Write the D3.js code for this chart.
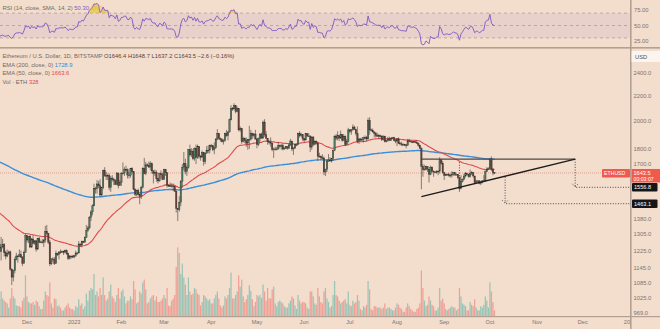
<!DOCTYPE html>
<html><head><meta charset="utf-8">
<script src="https://cdn.jsdelivr.net/npm/d3@7"></script>
<style>
body{margin:0;background:#f3ddcd}
svg{display:block}
text{font-family:"Liberation Sans",Arial,sans-serif}
</style>
</head><body>
<svg id="c" width="660" height="329"></svg>
<script>
// ---------------- DATA ----------------
const startDate = "2022-10-30"; // first daily candle (warm-up days are off-screen)
const firstOpen = 1595;
const closes = [
1590,1572,
1580,1518,1530,1645,1628,1572,1568,1334,1100,1300,1287,1256,1220,1242,1253,1215,1200,1213,1219,1142,1108,1135,1184,1200,1199,1206,1195,1168,1217,1296,
1275,1293,1241,1280,1259,1271,1232,1282,1264,1266,1263,1275,1318,1308,1265,1165,1187,1184,1167,1213,1206,1219,1218,1220,1218,1225,1212,1189,1200,1198,1196,
1201,1214,1214,1256,1251,1269,1264,1288,1321,1335,1389,1418,1451,1551,1549,1577,1566,1512,1554,1659,1627,1628,1628,1556,1612,1604,1598,1574,1643,1567,1584,
1642,1643,1666,1665,1631,1629,1672,1652,1546,1514,1539,1514,1505,1556,1673,1640,1695,1691,1681,1702,1657,1641,1648,1609,1595,1640,1633,1605,
1664,1645,1568,1566,1564,1565,1560,1534,1437,1430,1471,1590,1680,1705,1653,1676,1795,1760,1785,1735,1805,1742,1817,1752,1745,1775,1716,1771,1792,1792,1822,
1822,1795,1808,1869,1910,1874,1864,1850,1857,1910,1892,1920,2010,2098,2095,2120,2076,2100,1935,1943,1850,1875,1859,1840,1865,1866,1910,1893,1905,1869,
1830,1871,1905,1876,1993,1900,1874,1850,1845,1840,1796,1800,1798,1800,1822,1822,1823,1800,1805,1815,1805,1828,1855,1800,1807,1830,1830,1910,1892,1900,1872,
1862,1907,1890,1891,1813,1883,1832,1850,1840,1752,1752,1742,1739,1650,1666,1719,1726,1720,1735,1790,1890,1873,1892,1876,1900,1860,1889,1830,1850,1935,
1925,1937,1956,1937,1910,1850,1870,1862,1865,1880,1880,1870,2005,1935,1930,1920,1910,1895,1890,1892,1890,1865,1890,1850,1860,1870,1860,1875,1880,1860,1855,
1870,1840,1835,1830,1830,1828,1825,1856,1855,1850,1848,1850,1845,1840,1826,1806,1685,1665,1668,1685,1667,1635,1680,1655,1650,1645,1655,1655,1728,1705,1645,
1628,1635,1635,1628,1630,1635,1645,1635,1635,1615,1550,1590,1605,1625,1640,1635,1620,1640,1645,1625,1585,1595,1595,1580,1585,1595,1595,1652,1668,1670,
1733,1665,1646.1,1643.5
];
const highs = [
1640,1640,
1600,1620,1550,1675,1660,1650,1600,1590,1350,1340,1330,1290,1270,1290,1280,1260,1225,1230,1225,1225,1145,1140,1195,1215,1205,1230,1225,1200,1225,1305,
1300,1295,1300,1285,1300,1275,1275,1285,1290,1272,1280,1280,1345,1350,1310,1275,1190,1195,1195,1225,1215,1220,1230,1225,1225,1230,1230,1215,1205,1202,1205,
1204,1225,1218,1270,1258,1272,1272,1292,1350,1345,1396,1428,1460,1578,1560,1600,1595,1605,1560,1665,1680,1650,1640,1640,1625,1630,1615,1605,1650,1645,1600,
1650,1710,1680,1690,1672,1650,1675,1680,1655,1550,1543,1550,1520,1565,1680,1740,1715,1705,1715,1718,1710,1660,1665,1660,1612,1645,1660,1645,
1670,1668,1648,1575,1585,1580,1580,1565,1540,1440,1505,1600,1700,1780,1735,1690,1800,1830,1805,1800,1810,1830,1830,1820,1760,1790,1777,1780,1820,1825,1830,
1835,1825,1845,1875,1940,1912,1880,1875,1870,1915,1935,1925,2020,2125,2110,2140,2122,2115,2100,1960,1950,1885,1880,1880,1870,1965,1935,1915,1910,1935,
1875,1880,1910,1915,2005,2015,1925,1875,1860,1880,1845,1808,1815,1815,1850,1830,1835,1840,1815,1820,1820,1835,1870,1855,1810,1835,1838,1915,1925,1915,1905,
1875,1910,1910,1912,1893,1890,1890,1860,1860,1845,1775,1755,1765,1750,1670,1730,1765,1745,1740,1795,1895,1905,1925,1895,1930,1905,1905,1895,1870,1950,
1940,1940,1975,1965,1942,1960,1875,1875,1880,1885,1895,1890,2025,2030,1945,1945,1925,1920,1915,1905,1900,1895,1895,1890,1865,1885,1885,1880,1882,1885,1870,
1875,1880,1850,1850,1840,1835,1835,1870,1870,1860,1855,1855,1852,1860,1845,1830,1810,1700,1695,1690,1685,1670,1690,1685,1660,1655,1660,1660,1745,1730,1720,
1650,1640,1640,1645,1640,1655,1650,1650,1640,1635,1620,1630,1610,1640,1650,1645,1638,1665,1655,1650,1625,1600,1600,1600,1595,1600,1630,1660,1680,1680,
1740,1750,1675,1648.7
];
const lows = [
1580,1560,
1560,1500,1505,1525,1620,1565,1548,1220,1073,1100,1220,1240,1205,1180,1235,1198,1185,1195,1205,1135,1075,1090,1125,1180,1170,1195,1192,1155,1165,1215,
1263,1260,1240,1240,1255,1252,1220,1228,1260,1260,1258,1242,1262,1300,1255,1155,1160,1175,1160,1165,1200,1185,1210,1215,1205,1212,1205,1182,1185,1188,1192,
1190,1196,1205,1212,1242,1240,1260,1263,1285,1315,1328,1370,1400,1450,1520,1520,1550,1500,1505,1545,1620,1600,1600,1540,1530,1590,1570,1570,1570,1550,1565,
1565,1635,1625,1655,1610,1610,1615,1640,1540,1505,1505,1510,1460,1490,1550,1635,1630,1682,1675,1660,1640,1580,1625,1590,1580,1590,1610,1600,
1600,1625,1555,1560,1558,1555,1535,1530,1415,1370,1420,1450,1555,1660,1635,1625,1670,1750,1745,1725,1722,1700,1735,1735,1722,1742,1690,1700,1770,1770,1770,
1810,1785,1765,1800,1860,1865,1850,1845,1830,1850,1885,1860,1915,2005,2080,2090,2060,2070,1925,1920,1835,1845,1840,1815,1795,1800,1860,1870,1880,1865,
1805,1820,1850,1870,1870,1885,1870,1830,1830,1815,1785,1740,1790,1790,1795,1805,1795,1790,1795,1800,1795,1800,1820,1785,1760,1800,1820,1825,1880,1885,1855,
1845,1860,1885,1885,1780,1795,1820,1825,1830,1720,1740,1725,1730,1630,1625,1650,1715,1715,1710,1720,1785,1860,1860,1855,1870,1850,1855,1820,1830,1845,
1910,1900,1930,1935,1895,1840,1835,1852,1855,1845,1865,1855,1865,1900,1925,1915,1880,1880,1885,1870,1880,1855,1858,1845,1845,1850,1855,1855,1870,1855,1840,
1820,1835,1825,1820,1825,1820,1805,1822,1845,1845,1840,1845,1840,1835,1815,1800,1545,1620,1658,1660,1650,1585,1630,1645,1620,1642,1640,1630,1640,1695,1640,
1600,1625,1630,1620,1615,1615,1625,1625,1630,1605,1530,1545,1585,1600,1615,1630,1615,1615,1630,1615,1575,1583,1590,1575,1570,1580,1590,1590,1650,1665,
1670,1655,1630,1637.2
];
const volumes = [ // thousand ETH
20,25,
22,28,25,35,20,22,30,80,95,60,30,20,25,35,25,22,20,18,12,25,40,28,25,15,14,14,12,22,26,58,
28,20,18,18,20,16,22,20,14,10,10,22,35,30,28,48,18,12,25,24,14,15,12,8,8,12,15,18,12,10,10,
8,14,12,24,15,18,10,14,32,22,36,40,38,60,30,35,28,40,30,55,30,22,25,35,45,28,25,20,30,40,25,
35,38,28,18,22,22,28,24,50,38,18,20,35,32,48,52,38,18,20,25,28,30,22,28,20,20,22,25,
30,25,40,15,14,22,25,30,70,98,90,60,75,55,45,30,55,35,30,32,40,38,32,30,15,20,30,28,25,22,24,
18,18,25,30,35,25,15,12,15,28,25,30,40,62,25,25,30,35,58,42,52,28,20,24,30,44,36,24,14,20,
30,28,30,26,45,35,22,40,25,25,38,42,18,14,20,22,20,18,14,12,12,18,22,28,25,15,10,30,22,18,20,
20,18,12,10,35,35,28,18,16,40,28,20,18,35,40,25,20,12,14,30,50,30,28,22,18,20,22,24,18,35,
16,14,22,18,20,30,22,10,8,14,12,16,50,38,10,8,14,14,12,12,12,10,12,18,10,12,12,10,8,8,12,
18,16,12,10,6,6,12,18,14,10,8,6,6,10,12,18,65,40,22,14,16,28,22,16,14,8,8,12,40,22,25,
18,10,8,10,12,14,12,12,8,10,40,28,18,16,14,8,8,20,16,14,24,12,8,8,14,12,16,28,22,12,
48,35,20,8
];
const ema50Seed = 1410, ema200Seed = 1756;   // indicator values on the first (off-screen) day
const lastPrice = 1643.5;
const priceTicks = [2400,2200,2000,1800,1700,1380,1305,1225,1145,1085,1025,969];
const rsiTicks = [75,50,25];
const monthTicks = ["2022-12-01","2023-01-01","2023-02-01","2023-03-01","2023-04-01","2023-05-01","2023-06-01","2023-07-01","2023-08-01","2023-09-01","2023-10-01","2023-11-01","2023-12-01","2024-01-01"];
const monthLabels = ["Dec","2023","Feb","Mar","Apr","May","Jun","Jul","Aug","Sep","Oct","Nov","Dec","2024"];
// drawings (date, price)
const triTop = [["2023-08-17",1732],["2023-11-26",1732]];
const triLow = [["2023-08-17",1503],["2023-11-26",1732]];
const heightMark = {date:"2023-09-11", from:1712, to:1545};
const targets = [
  {date:"2023-11-26", from:1732, to:1556.8},
  {date:"2023-10-11", from:1619, to:1463.1}
];
const legendMain = "Ethereum / U.S. Dollar, 1D, BITSTAMP";
const legendOHLC = "O1646.4 H1648.7 L1637.2 C1643.5 −2.6 (−0.16%)";

// ---------------- SETUP ----------------
const W=660,H=329, PR=630, rsiT=0, rsiB=47, pT=48, pB=316;
const svg=d3.select("#c");
const DAY=86400000, t0=Date.parse(startDate+"T00:00:00Z");
const dates=closes.map((c,i)=>new Date(t0+i*DAY));
const opens=closes.map((c,i)=>i?closes[i-1]:firstOpen);
const pd=s=>new Date(s+"T00:00:00Z");

const x=d3.scaleUtc().domain([pd("2022-12-01"),pd("2024-01-01")]).range([27,PR]);
const y=d3.scaleLog().domain([969,2400]).range([312.5,73]);
const ry=d3.scaleLinear().domain([25,75]).range([41,10]);
const vy=d3.scaleLinear().domain([0,100]).range([pB,pB-70]);

// indicators
function ema(seed,n){const a=2/(n+1);let e=seed;return closes.map((c,i)=>{if(i)e=a*c+(1-a)*e;return e;});}
const e50=ema(ema50Seed,50), e200=ema(ema200Seed,200);
const rsi=(()=>{const n=14,out=new Array(closes.length).fill(null);let g=0,l=0;
 for(let i=1;i<=n;i++){const d=closes[i]-closes[i-1];if(d>0)g+=d;else l-=d;}
 g/=n;l/=n;out[n]=100-100/(1+g/l);
 for(let i=n+1;i<closes.length;i++){const d=closes[i]-closes[i-1];g=(g*(n-1)+Math.max(d,0))/n;l=(l*(n-1)+Math.max(-d,0))/n;out[i]=100-100/(1+g/l);}
 return out;})();

// background
svg.append("rect").attr("width",W).attr("height",H).attr("fill","#f3ddcd");
const defs=svg.append("defs");
defs.append("clipPath").attr("id","cp").append("rect").attr("x",0).attr("y",pT).attr("width",PR).attr("height",pB-pT);
defs.append("clipPath").attr("id","cr").append("rect").attr("x",0).attr("y",rsiT).attr("width",PR).attr("height",rsiB-rsiT);
defs.append("clipPath").attr("id","ct").append("rect").attr("x",0).attr("y",pB).attr("width",PR).attr("height",H-pB);

// ---------------- RSI PANE ----------------
const gr=svg.append("g").attr("clip-path","url(#cr)");
gr.append("rect").attr("x",0).attr("width",PR).attr("y",ry(70)).attr("height",ry(30)-ry(70)).attr("fill","rgba(126,87,194,0.09)");
[70,50,30].forEach(v=>gr.append("line").attr("x1",0).attr("x2",PR).attr("y1",ry(v)).attr("y2",ry(v))
  .attr("stroke","#a8949c").attr("stroke-width",0.7).attr("stroke-dasharray","3,3"));
const ridx=d3.range(closes.length).filter(i=>rsi[i]!==null);
gr.append("path").datum(ridx).attr("fill","rgba(232,196,70,0.75)")
 .attr("d",d3.area().x(i=>x(dates[i])).y0(ry(70)).y1(i=>ry(Math.max(70,rsi[i]))));
gr.append("path").datum(ridx).attr("fill","none").attr("stroke","#7e57c2").attr("stroke-width",0.9)
 .attr("d",d3.line().x(i=>x(dates[i])).y(i=>ry(rsi[i])));

// ---------------- PRICE PANE ----------------
const gp=svg.append("g").attr("clip-path","url(#cp)");
const idx=d3.range(closes.length);
const up=i=>closes[i]>=opens[i];
// volume
gp.append("g").selectAll("rect").data(idx).join("rect")
 .attr("x",i=>x(dates[i])-0.6).attr("width",1.2)
 .attr("y",i=>vy(volumes[i])).attr("height",i=>pB-vy(volumes[i]))
 .attr("fill",i=>up(i)?"rgba(38,166,154,0.45)":"rgba(239,83,80,0.45)");
// last price line
gp.append("line").attr("x1",0).attr("x2",PR).attr("y1",y(lastPrice)).attr("y2",y(lastPrice))
 .attr("stroke","#d4897a").attr("stroke-width",0.7).attr("stroke-dasharray","1,1");
// EMAs
gp.append("path").datum(idx).attr("fill","none").attr("stroke","#3a8fdc").attr("stroke-width",1.4)
 .attr("d",d3.line().x(i=>x(dates[i])).y(i=>y(e200[i])));
gp.append("path").datum(idx).attr("fill","none").attr("stroke","#e04a4e").attr("stroke-width",1.1)
 .attr("d",d3.line().x(i=>x(dates[i])).y(i=>y(e50[i])));
// candles
gp.append("g").selectAll("line").data(idx).join("line")
 .attr("x1",i=>x(dates[i])).attr("x2",i=>x(dates[i]))
 .attr("y1",i=>y(highs[i])).attr("y2",i=>y(lows[i]))
 .attr("stroke","#3a3a36").attr("stroke-width",0.6);
gp.append("g").selectAll("rect").data(idx).join("rect")
 .attr("x",i=>x(dates[i])-0.7).attr("width",1.4)
 .attr("y",i=>Math.min(y(opens[i]),y(closes[i])))
 .attr("height",i=>Math.max(0.8,Math.abs(y(opens[i])-y(closes[i]))))
 .attr("fill",i=>up(i)?"#4d7d60":"#6e3f36").attr("stroke","#2f2f2c").attr("stroke-width",0.35);

// drawings
const pt=d=>[x(pd(d[0])),y(d[1])];
gp.append("line").attr("x1",pt(triTop[0])[0]).attr("y1",pt(triTop[0])[1]).attr("x2",pt(triTop[1])[0]).attr("y2",pt(triTop[1])[1])
 .attr("stroke","#4a4a4a").attr("stroke-width",1.3);
gp.append("line").attr("x1",pt(triLow[0])[0]).attr("y1",pt(triLow[0])[1]).attr("x2",pt(triLow[1])[0]).attr("y2",pt(triLow[1])[1])
 .attr("stroke","#1c1c1c").attr("stroke-width",1.3);
const dot={stroke:"#3b3b3b","stroke-width":0.9,"stroke-dasharray":"1,1.6"};
function dl(x1,y1,x2,y2){const l=gp.append("line").attr("x1",x1).attr("y1",y1).attr("x2",x2).attr("y2",y2);for(const k in dot)l.attr(k,dot[k]);}
{const hx=x(pd(heightMark.date));dl(hx,y(heightMark.from),hx,y(heightMark.to));}
targets.forEach(t=>{
  const tx=x(pd(t.date)), ya=y(t.from), yb=y(t.to);
  dl(tx,ya,tx,yb-1);
  dl(tx-3,yb-3.5,tx,yb-0.5); dl(tx,yb-0.5,tx+3,yb-3.5);
  dl(tx+1,yb,PR,yb);
});

// ---------------- SEPARATORS ----------------
svg.append("rect").attr("x",0).attr("y",rsiB).attr("width",W).attr("height",1.6).attr("fill","#b3a092");
svg.append("rect").attr("x",PR).attr("y",0).attr("width",1.6).attr("height",H).attr("fill","#b3a092");
svg.append("rect").attr("x",0).attr("y",pB).attr("width",W).attr("height",1.2).attr("fill","#b3a092");

// ---------------- AXES ----------------
const axC="#7b7470";
svg.append("g").selectAll("text").data(rsiTicks).join("text")
 .attr("x",PR+4).attr("y",v=>ry(v)+2).attr("font-size",5.8).attr("fill",axC).text(v=>v.toFixed(2));
svg.append("rect").attr("x",PR+1.6).attr("y",51).attr("width",W-PR-1.6).attr("height",11).attr("fill","#fbf4ef");
svg.append("text").attr("x",PR+5).attr("y",58.5).attr("font-size",5.8).attr("fill","#555").text("USD");
svg.append("g").selectAll("text").data(priceTicks).join("text")
 .attr("x",PR+3.5).attr("y",v=>y(v)+2).attr("font-size",5.8).attr("fill",axC).text(v=>v.toFixed(1));
// target labels
targets.forEach(t=>{
  svg.append("rect").attr("x",PR+2).attr("y",y(t.to)-4.3).attr("width",25.5).attr("height",8.6).attr("rx",1).attr("fill","#161616");
  svg.append("text").attr("x",PR+4).attr("y",y(t.to)+2).attr("font-size",5.6).attr("fill","#fff").text(t.to.toFixed(1));
});
// last price labels
{const ly=y(lastPrice);
 svg.append("rect").attr("x",602).attr("y",ly-4).attr("width",PR-602).attr("height",8.5).attr("rx",1).attr("fill","#ef5a4c");
 svg.append("text").attr("x",604).attr("y",ly+2).attr("font-size",5.2).attr("fill","#fff").text("ETHUSD");
 svg.append("rect").attr("x",PR+1.6).attr("y",ly-4).attr("width",W-PR-1.6).attr("height",13.5).attr("fill","#ef5a4c");
 svg.append("text").attr("x",PR+3.5).attr("y",ly+2).attr("font-size",5.6).attr("fill","#fff").text(lastPrice.toFixed(1));
 svg.append("text").attr("x",PR+3.5).attr("y",ly+8.3).attr("font-size",5.2).attr("fill","#fff").text("00:03:07");
}
// time axis
svg.append("g").attr("clip-path","url(#ct)").selectAll("text").data(monthTicks).join("text")
 .attr("x",d=>x(pd(d))).attr("y",324).attr("text-anchor","middle").attr("font-size",5.6).attr("fill",axC)
 .text((d,i)=>monthLabels[i]);

// ---------------- LEGENDS ----------------
function legend(yy,parts){const t=svg.append("text").attr("x",2.5).attr("y",yy).attr("font-size",5.8);
 parts.forEach(p=>t.append("tspan").attr("fill",p[1]).text(p[0]));}
legend(10,[["RSI (14, close, SMA, 14, 2) ","#6f6a66"],["50.30","#7e57c2"],["          ","#000"],["∅  ∅","#d9b43a"]]);
legend(58,[[legendMain+" ","#6f6a66"],[legendOHLC,"#5a3e38"]]);
legend(66.5,[["EMA (200, close, 0) ","#6f6a66"],["1728.9","#2f8ee0"]]);
legend(75,[["EMA (50, close, 0) ","#6f6a66"],["1663.6","#e5484d"]]);
legend(83.5,[["Vol · ETH ","#6f6a66"],["328","#e5484d"]]);
</script>
</body></html>
